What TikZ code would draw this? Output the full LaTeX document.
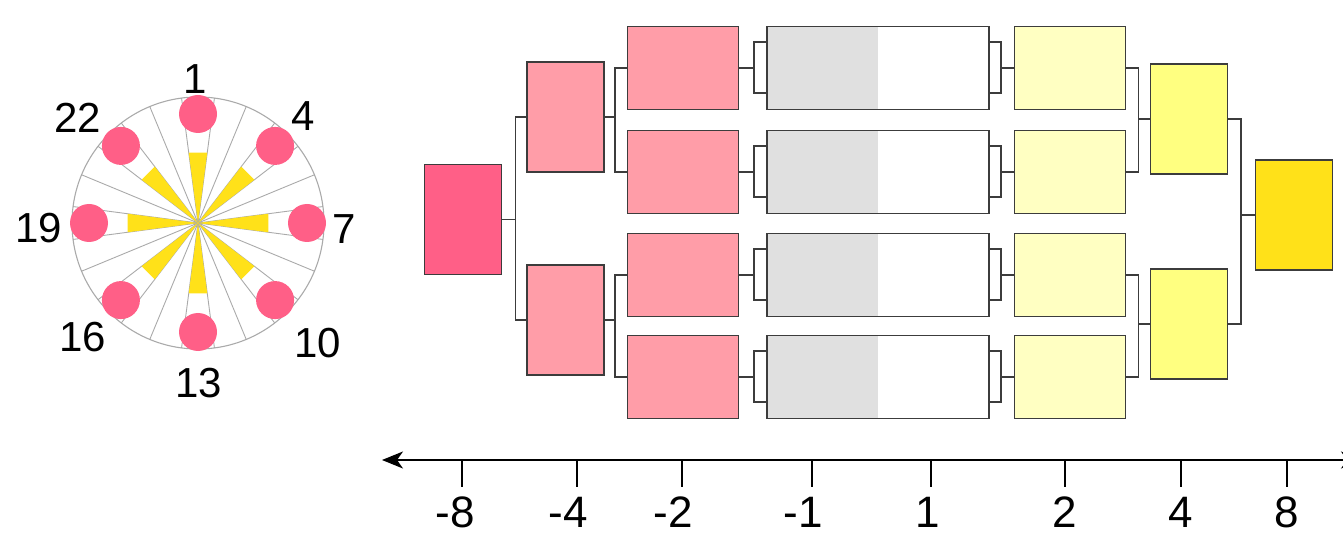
\documentclass[tikz,border=0pt]{standalone}
\usepackage{fontspec}
\setmainfont{Liberation Sans}
\usetikzlibrary{arrows.meta}
\definecolor{hotpink}{HTML}{FF5F87}
\definecolor{rosepink}{HTML}{FF9DA8}
\definecolor{palelemon}{HTML}{FFFFC2}
\definecolor{lemon}{HTML}{FFFF80}
\definecolor{deepgold}{HTML}{FFE119}
\definecolor{halfgray}{HTML}{E0E0E0}
\definecolor{edge}{HTML}{3C3C3C}
\definecolor{spoke}{HTML}{AAAAAA}
\tikzstyle{big}=[draw=edge, line width=1.5pt, shape=rectangle, inner sep=0pt, minimum width=77pt, minimum height=110pt]
\tikzstyle{sml}=[draw=edge, line width=1.5pt, shape=rectangle, inner sep=0pt, minimum width=111pt, minimum height=83pt]
\tikzstyle{dbl}=[sml, minimum width=222pt, fill=white, path picture={\fill[halfgray] (path picture bounding box.north west) rectangle (path picture bounding box.south);}]
\tikzstyle{con}=[draw=edge, line width=1.5pt]
\tikzstyle{num}=[inner sep=0pt, font=\fontsize{42}{48}\selectfont]
\tikzstyle{tck}=[inner sep=0pt, font=\fontsize{44}{50}\selectfont]
\tikzstyle{ray}=[draw=spoke, line width=0.9pt]

\begin{document}
\begin{tikzpicture}[x=1pt, y=-1pt]
		\useasboundingbox (0,0) rectangle (1343,534);

		% wheel
		\begin{scope}[shift={(198,223)}]
			\draw[ray, line width=1.1pt] (0,0) circle[radius=126pt];
			\draw[ray] (7.5:126) -- (187.5:126);
			\draw[ray] (22.5:126) -- (202.5:126);
			\draw[ray] (37.5:126) -- (217.5:126);
			\draw[ray] (52.5:126) -- (232.5:126);
			\draw[ray] (67.5:126) -- (247.5:126);
			\draw[ray] (82.5:126) -- (262.5:126);
			\draw[ray] (97.5:126) -- (277.5:126);
			\draw[ray] (112.5:126) -- (292.5:126);
			\draw[ray] (127.5:126) -- (307.5:126);
			\draw[ray] (142.5:126) -- (322.5:126);
			\draw[ray] (157.5:126) -- (337.5:126);
			\draw[ray] (172.5:126) -- (352.5:126);

			\fill[deepgold] (0,0) -- (-97.5:71) -- (-82.5:71) -- cycle;
			\fill[deepgold] (0,0) -- (-52.5:71) -- (-37.5:71) -- cycle;
			\fill[deepgold] (0,0) -- (-7.5:71) -- (7.5:71) -- cycle;
			\fill[deepgold] (0,0) -- (37.5:71) -- (52.5:71) -- cycle;
			\fill[deepgold] (0,0) -- (82.5:71) -- (97.5:71) -- cycle;
			\fill[deepgold] (0,0) -- (127.5:71) -- (142.5:71) -- cycle;
			\fill[deepgold] (0,0) -- (172.5:71) -- (187.5:71) -- cycle;
			\fill[deepgold] (0,0) -- (217.5:71) -- (232.5:71) -- cycle;

			\fill[hotpink] (-90:109) circle[radius=19pt];
			\fill[hotpink] (-45:109) circle[radius=19pt];
			\fill[hotpink] (0:109) circle[radius=19pt];
			\fill[hotpink] (45:109) circle[radius=19pt];
			\fill[hotpink] (90:109) circle[radius=19pt];
			\fill[hotpink] (135:109) circle[radius=19pt];
			\fill[hotpink] (180:109) circle[radius=19pt];
			\fill[hotpink] (225:109) circle[radius=19pt];
		\end{scope}

		\node[num] (n1) at (195,79) {1};
		\node[num] (n4) at (303,116) {4};
		\node[num] (n7) at (344,229) {7};
		\node[num] (n10) at (318,343) {10};
		\node[num] (n13) at (199,383) {13};
		\node[num] (n16) at (83,337) {16};
		\node[num] (n19) at (39,228) {19};
		\node[num] (n22) at (78,118) {22};

		% bracket
		\node[big, fill=hotpink] (1) at (463,219.5) {};

		\node[big, fill=rosepink] (21) at (565.5,117) {};
		\node[big, fill=rosepink] (22) at (565.5,320) {};

		\node[sml, fill=rosepink] (31) at (683,68) {};
		\node[sml, fill=rosepink] (32) at (683,172) {};
		\node[sml, fill=rosepink] (33) at (683,275) {};
		\node[sml, fill=rosepink] (34) at (683,377) {};

		\node[dbl] (41) at (878,68) {};
		\node[dbl] (42) at (878,172) {};
		\node[dbl] (43) at (878,275) {};
		\node[dbl] (44) at (878,377) {};

		\node[sml, fill=palelemon] (51) at (1070,68) {};
		\node[sml, fill=palelemon] (52) at (1070,172) {};
		\node[sml, fill=palelemon] (53) at (1070,275) {};
		\node[sml, fill=palelemon] (54) at (1070,377) {};

		\node[big, fill=lemon] (61) at (1189,119) {};
		\node[big, fill=lemon] (62) at (1189,324) {};

		\node[big, fill=deepgold] (7) at (1294,215) {};

		\draw[con] (1.east) -- ++(13,0) |- (21.west);
		\draw[con] (1.east) -- ++(13,0) |- (22.west);

		\draw[con] (21.east) -- ++(10,0) |- (31.west);
		\draw[con] (21.east) -- ++(10,0) |- (32.west);
		\draw[con] (22.east) -- ++(10,0) |- (33.west);
		\draw[con] (22.east) -- ++(10,0) |- (34.west);

		\draw[con] (31.east) -- ++(14.5,0) |- ([yshift=26pt]41.west);
		\draw[con] (31.east) -- ++(14.5,0) |- ([yshift=-25pt]41.west);
		\draw[con] (32.east) -- ++(14.5,0) |- ([yshift=26pt]42.west);
		\draw[con] (32.east) -- ++(14.5,0) |- ([yshift=-25pt]42.west);
		\draw[con] (33.east) -- ++(14.5,0) |- ([yshift=26pt]43.west);
		\draw[con] (33.east) -- ++(14.5,0) |- ([yshift=-25pt]43.west);
		\draw[con] (34.east) -- ++(14.5,0) |- ([yshift=26pt]44.west);
		\draw[con] (34.east) -- ++(14.5,0) |- ([yshift=-25pt]44.west);

		\draw[con] ([yshift=26pt]41.east) -- ++(11,0) |- (51.west);
		\draw[con] ([yshift=-25pt]41.east) -- ++(11,0) |- (51.west);
		\draw[con] ([yshift=26pt]42.east) -- ++(11,0) |- (52.west);
		\draw[con] ([yshift=-25pt]42.east) -- ++(11,0) |- (52.west);
		\draw[con] ([yshift=26pt]43.east) -- ++(11,0) |- (53.west);
		\draw[con] ([yshift=-25pt]43.east) -- ++(11,0) |- (53.west);
		\draw[con] ([yshift=26pt]44.east) -- ++(11,0) |- (54.west);
		\draw[con] ([yshift=-25pt]44.east) -- ++(11,0) |- (54.west);

		\draw[con] (51.east) -- ++(12,0) |- (61.west);
		\draw[con] (52.east) -- ++(12,0) |- (61.west);
		\draw[con] (53.east) -- ++(12,0) |- (62.west);
		\draw[con] (54.east) -- ++(12,0) |- (62.west);

		\draw[con] (61.east) -- ++(12.5,0) |- (7.west);
		\draw[con] (62.east) -- ++(12.5,0) |- (7.west);

		% axis
		\coordinate (a0) at (382,460);
		\coordinate (a1) at (1362,460);
		\draw[line width=1.4pt, {Stealth[length=21pt,width=17pt,inset=6pt]}-{Stealth[length=21pt,width=17pt,inset=6pt]}] (a0) -- (a1);

		\draw[line width=1.4pt] (462,460) -- (462,487);
		\draw[line width=1.4pt] (577,460) -- (577,487);
		\draw[line width=1.4pt] (682,460) -- (682,487);
		\draw[line width=1.4pt] (812,460) -- (812,487);
		\draw[line width=1.4pt] (931,460) -- (931,487);
		\draw[line width=1.4pt] (1065,460) -- (1065,487);
		\draw[line width=1.4pt] (1181,460) -- (1181,487);
		\draw[line width=1.4pt] (1287,460) -- (1287,487);

		\node[tck] (t1) at (455,512) {-8};
		\node[tck] (t2) at (568,512) {-4};
		\node[tck] (t3) at (673,512) {-2};
		\node[tck] (t4) at (803,512) {-1};
		\node[tck] (t5) at (928,512) {1};
		\node[tck] (t6) at (1065,512) {2};
		\node[tck] (t7) at (1181,512) {4};
		\node[tck] (t8) at (1287,512) {8};
	\end{tikzpicture}
\end{document}
